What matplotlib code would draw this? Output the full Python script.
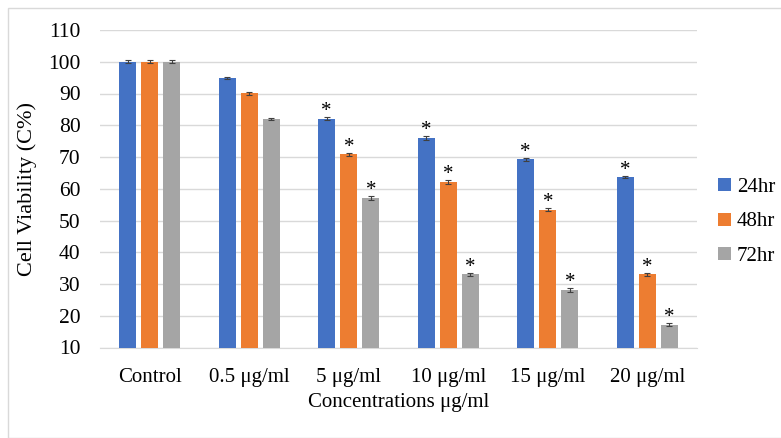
import matplotlib
matplotlib.use("Agg")
import matplotlib.pyplot as plt
import numpy as np
from matplotlib.patches import Rectangle

categories = ["Control", "0.5 μg/ml", "5 μg/ml", "10 μg/ml", "15 μg/ml", "20 μg/ml"]
series_names = ["24hr", "48hr", "72hr"]
v24 = [100, 95, 82, 76, 69.3, 63.7]
v48 = [100, 90, 70.8, 62.2, 53.4, 33.0]
v72 = [100, 82, 57.2, 33.0, 28.2, 17.2]
e24 = [0.4, 0.3, 0.5, 0.5, 0.5, 0.4]
e48 = [0.5, 0.4, 0.6, 0.6, 0.5, 0.5]
e72 = [0.5, 0.4, 0.6, 0.5, 0.6, 0.5]
sig24 = [False, False, True, True, True, True]
sig48 = [False, False, True, True, True, True]
sig72 = [False, False, True, True, True, True]
colors = ["#4472C4", "#ED7D31", "#A5A5A5"]
yticks = [10, 20, 30, 40, 50, 60, 70, 80, 90, 100, 110]

plt.rcParams['font.family'] = ['Liberation Serif', 'DejaVu Serif']

fig = plt.figure(figsize=(7.81, 4.38), dpi=100)
ax = fig.add_axes([100/781, 1 - 347.5/438, 597/781, (347.5 - 30)/438])

x = np.arange(len(categories))
w = 0.168
offs = [-0.222, 0, 0.222]
for vals, errs, sig, c, o, name in zip([v24, v48, v72], [e24, e48, e72], [sig24, sig48, sig72], colors, offs, series_names):
    ax.bar(x + o, np.array(vals) - 10, bottom=10, width=w, color=c, label=name, zorder=3)
    ax.errorbar(x + o, vals, yerr=errs, fmt='none', ecolor='#404040', elinewidth=0.8, capsize=2.5, capthick=0.8, zorder=4)
    for xi, v, e, s in zip(x + o, vals, errs, sig):
        if s:
            ax.text(xi, v + e + 1.7, "*", ha='center', va='center', fontsize=15, color='black', zorder=5)

ax.set_xlim(-0.5, len(categories) - 0.5)
ax.set_ylim(10, 110)
ax.set_yticks(yticks)
ax.set_xticks(x)
ax.set_xticklabels(categories, fontsize=15)
ax.tick_params(axis='y', labelsize=15.5, length=0, pad=14)
ax.tick_params(axis='x', length=0, pad=15)
ax.grid(axis='y', color='#D9D9D9', linewidth=1, zorder=0)
for s in ['top', 'right', 'left']:
    ax.spines[s].set_visible(False)
ax.spines['bottom'].set_color('#D9D9D9')
ax.set_ylabel("Cell Viability (C%)", fontsize=16, labelpad=8)
ax.set_xlabel("Concentrations μg/ml", fontsize=15, labelpad=4)

leg = fig.legend(loc='center left', bbox_to_anchor=(718/781, 1 - 222/438), frameon=False, fontsize=15,
                 handlelength=0.6, handleheight=0.6, handletextpad=0.3, labelspacing=0.75,
                 borderaxespad=0, borderpad=0)

fig.patches.append(Rectangle((8/781, 0.5/438), 1 - 8/781 + 0.01, 1 - 8/438 - 0.5/438, transform=fig.transFigure,
                             fill=False, edgecolor='#D9D9D9', linewidth=1))

fig.savefig("out.png", dpi=100, facecolor='white')
